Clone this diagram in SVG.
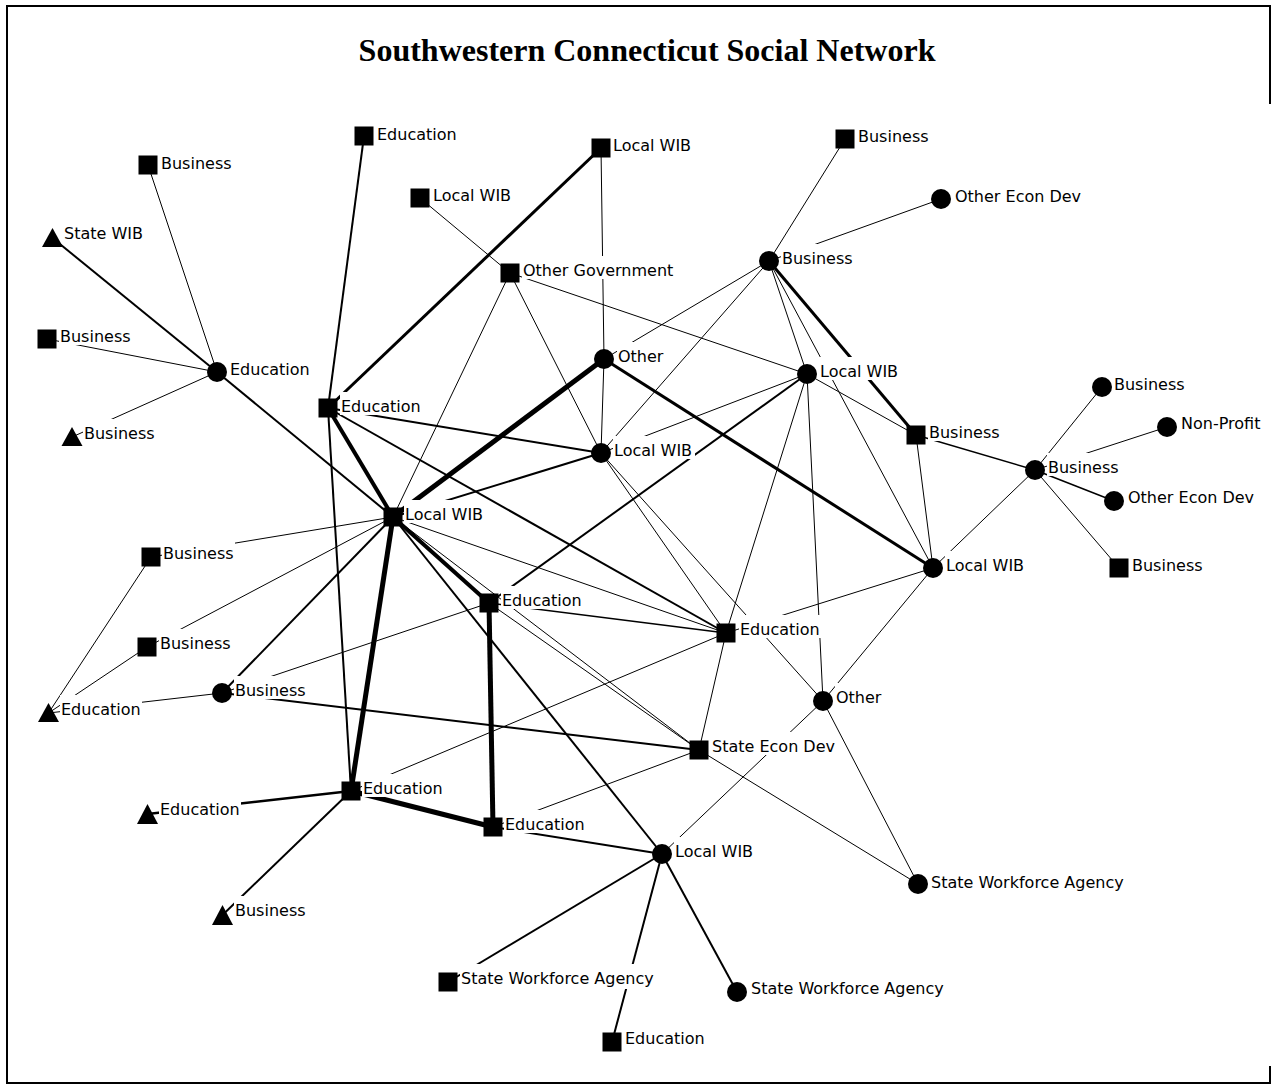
<svg xmlns="http://www.w3.org/2000/svg" width="1272" height="1086" viewBox="0 0 1272 1086">
<style>
.frame{fill:none;stroke:#000;stroke-width:2}
.title{font-family:"Liberation Serif","Times New Roman",serif;font-weight:bold;font-size:32px;fill:#000}
#edges line{stroke:#000;stroke-linecap:butt}
.w1{stroke-width:1}
.w15{stroke-width:1.5}
.w2{stroke-width:2}
.w25{stroke-width:2.5}
.w3{stroke-width:3}
.w4{stroke-width:4}
.w5{stroke-width:5}
.bg{fill:#fff}
.sh{fill:#000}
.lbl{font-family:"DejaVu Sans","Verdana",sans-serif;font-size:16px;fill:#000}
</style>
<rect width="1272" height="1086" fill="#fff"/>
<path class="frame" d="M1270,104 V6 H7 V1083 H1270 V1066"/>
<text class="title" x="647" y="61" text-anchor="middle">Southwestern Connecticut Social Network</text>
<g id="edges">
<!-- thin -->
<line class="w1" x1="148" y1="165" x2="217" y2="372"/>
<line class="w1" x1="47" y1="339" x2="217" y2="372"/>
<line class="w1" x1="72" y1="437" x2="217" y2="372"/>
<line class="w1" x1="601" y1="148" x2="604" y2="359"/>
<line class="w1" x1="420" y1="198" x2="510" y2="273"/>
<line class="w1" x1="510" y1="273" x2="393" y2="517"/>
<line class="w1" x1="510" y1="273" x2="601" y2="453"/>
<line class="w1" x1="510" y1="273" x2="807" y2="374"/>
<line class="w1" x1="769" y1="261" x2="845" y2="139"/>
<line class="w1" x1="769" y1="261" x2="941" y2="199"/>
<line class="w1" x1="769" y1="261" x2="604" y2="359"/>
<line class="w1" x1="769" y1="261" x2="601" y2="453"/>
<line class="w1" x1="769" y1="261" x2="807" y2="374"/>
<line class="w1" x1="769" y1="261" x2="933" y2="568"/>
<line class="w1" x1="807" y1="374" x2="916" y2="435"/>
<line class="w1" x1="807" y1="374" x2="823" y2="701"/>
<line class="w1" x1="807" y1="374" x2="726" y2="633"/>
<line class="w1" x1="807" y1="374" x2="601" y2="453"/>
<line class="w1" x1="604" y1="359" x2="601" y2="453"/>
<line class="w1" x1="601" y1="453" x2="823" y2="701"/>
<line class="w1" x1="601" y1="453" x2="726" y2="633"/>
<line class="w1" x1="393" y1="517" x2="699" y2="750"/>
<line class="w1" x1="489" y1="603" x2="699" y2="750"/>
<line class="w1" x1="393" y1="517" x2="726" y2="633"/>
<line class="w1" x1="393" y1="517" x2="151" y2="557"/>
<line class="w1" x1="393" y1="517" x2="147" y2="647"/>
<line class="w1" x1="489" y1="603" x2="222" y2="693"/>
<line class="w1" x1="222" y1="693" x2="48.5" y2="713"/>
<line class="w1" x1="151" y1="557" x2="48.5" y2="713"/>
<line class="w1" x1="147" y1="647" x2="48.5" y2="713"/>
<line class="w1" x1="726" y1="633" x2="933" y2="568"/>
<line class="w1" x1="726" y1="633" x2="699" y2="750"/>
<line class="w1" x1="726" y1="633" x2="351" y2="791"/>
<line class="w1" x1="823" y1="701" x2="933" y2="568"/>
<line class="w1" x1="823" y1="701" x2="662" y2="854"/>
<line class="w1" x1="823" y1="701" x2="918" y2="884"/>
<line class="w1" x1="699" y1="750" x2="918" y2="884"/>
<line class="w1" x1="916" y1="435" x2="933" y2="568"/>
<line class="w1" x1="1035" y1="470" x2="1102" y2="387"/>
<line class="w1" x1="1035" y1="470" x2="1167" y2="427"/>
<line class="w1" x1="1035" y1="470" x2="1119" y2="568"/>
<line class="w1" x1="1035" y1="470" x2="933" y2="568"/>
<line class="w1" x1="493" y1="827" x2="699" y2="750"/>
<!-- 1.5 -->
<line class="w15" x1="489" y1="603" x2="726" y2="633"/>
<line class="w15" x1="916" y1="435" x2="1035" y2="470"/>
<line class="w15" x1="1035" y1="470" x2="1114" y2="501"/>
<!-- medium -->
<line class="w2" x1="364" y1="136" x2="328" y2="408"/>
<line class="w2" x1="328" y1="408" x2="351" y2="791"/>
<line class="w2" x1="52.5" y1="238" x2="217" y2="372"/>
<line class="w2" x1="217" y1="372" x2="393" y2="517"/>
<line class="w2" x1="328" y1="408" x2="601" y2="453"/>
<line class="w2" x1="393" y1="517" x2="601" y2="453"/>
<line class="w2" x1="328" y1="408" x2="726" y2="633"/>
<line class="w2" x1="807" y1="374" x2="489" y2="603"/>
<line class="w2" x1="393" y1="517" x2="662" y2="854"/>
<line class="w2" x1="393" y1="517" x2="222" y2="693"/>
<line class="w2" x1="222" y1="693" x2="699" y2="750"/>
<line class="w25" x1="351" y1="791" x2="147.5" y2="814"/>
<line class="w2" x1="351" y1="791" x2="222.5" y2="915"/>
<line class="w2" x1="493" y1="827" x2="662" y2="854"/>
<line class="w2" x1="662" y1="854" x2="448" y2="982"/>
<line class="w2" x1="662" y1="854" x2="612" y2="1042"/>
<line class="w2" x1="662" y1="854" x2="737" y2="992"/>
<!-- thick -->
<line class="w3" x1="601" y1="148" x2="328" y2="408"/>
<line class="w3" x1="604" y1="359" x2="933" y2="568"/>
<line class="w3" x1="769" y1="261" x2="916" y2="435"/>
<line class="w4" x1="393" y1="517" x2="489" y2="603"/>
<line class="w4" x1="328" y1="408" x2="393" y2="517"/>
<line class="w5" x1="393" y1="517" x2="604" y2="359"/>
<line class="w5" x1="393" y1="517" x2="351" y2="791"/>
<line class="w5" x1="489" y1="603" x2="493" y2="827"/>
<line class="w5" x1="351" y1="791" x2="493" y2="827"/>
</g>
<g id="n1"><rect class="bg" x="376" y="120" width="82" height="23"/><rect class="sh" x="354.5" y="126.5" width="19" height="19"/><text class="lbl" x="377" y="140">Education</text></g>
<g id="n2"><rect class="bg" x="160" y="149" width="73" height="23"/><rect class="sh" x="138.5" y="155.5" width="19" height="19"/><text class="lbl" x="161" y="169">Business</text></g>
<g id="n3"><rect class="bg" x="63" y="219" width="83" height="23"/><polygon class="sh" points="52.5,228 42,247 63,247"/><text class="lbl" x="64" y="239">State WIB</text></g>
<g id="n4"><rect class="bg" x="59" y="322" width="73" height="23"/><rect class="sh" x="37.5" y="329.5" width="19" height="19"/><text class="lbl" x="60" y="342">Business</text></g>
<g id="n5"><rect class="bg" x="229" y="355" width="82" height="23"/><circle class="sh" cx="217" cy="372" r="10"/><text class="lbl" x="230" y="375">Education</text></g>
<g id="n6"><rect class="bg" x="83" y="419" width="73" height="23"/><polygon class="sh" points="72,427 61.5,446 82.5,446"/><text class="lbl" x="84" y="439">Business</text></g>
<g id="n7"><rect class="bg" x="612" y="131" width="82" height="23"/><rect class="sh" x="591.5" y="138.5" width="19" height="19"/><text class="lbl" x="613" y="151">Local WIB</text></g>
<g id="n8"><rect class="bg" x="432" y="181" width="82" height="23"/><rect class="sh" x="410.5" y="188.5" width="19" height="19"/><text class="lbl" x="433" y="201">Local WIB</text></g>
<g id="n9"><rect class="bg" x="522" y="256" width="154" height="23"/><rect class="sh" x="500.5" y="263.5" width="19" height="19"/><text class="lbl" x="523" y="276">Other Government</text></g>
<g id="n10"><rect class="bg" x="857" y="122" width="73" height="23"/><rect class="sh" x="835.5" y="129.5" width="19" height="19"/><text class="lbl" x="858" y="142">Business</text></g>
<g id="n11"><rect class="bg" x="954" y="182" width="129" height="23"/><circle class="sh" cx="941" cy="199" r="10"/><text class="lbl" x="955" y="202">Other Econ Dev</text></g>
<g id="n12"><rect class="bg" x="781" y="244" width="73" height="23"/><circle class="sh" cx="769" cy="261" r="10"/><text class="lbl" x="782" y="264">Business</text></g>
<g id="n13"><rect class="bg" x="617" y="342" width="48" height="23"/><circle class="sh" cx="604" cy="359" r="10"/><text class="lbl" x="618" y="362">Other</text></g>
<g id="n14"><rect class="bg" x="819" y="357" width="82" height="23"/><circle class="sh" cx="807" cy="374" r="10"/><text class="lbl" x="820" y="377">Local WIB</text></g>
<g id="n15"><rect class="bg" x="613" y="436" width="82" height="23"/><circle class="sh" cx="601" cy="453" r="10"/><text class="lbl" x="614" y="456">Local WIB</text></g>
<g id="n16"><rect class="bg" x="340" y="392" width="82" height="23"/><rect class="sh" x="318.5" y="398.5" width="19" height="19"/><text class="lbl" x="341" y="412">Education</text></g>
<g id="n17"><rect class="bg" x="404" y="500" width="82" height="23"/><rect class="sh" x="383.5" y="507.5" width="19" height="19"/><text class="lbl" x="405" y="520">Local WIB</text></g>
<g id="n18"><rect class="bg" x="928" y="418" width="73" height="23"/><rect class="sh" x="906.5" y="425.5" width="19" height="19"/><text class="lbl" x="929" y="438">Business</text></g>
<g id="n19"><rect class="bg" x="1113" y="370" width="73" height="23"/><circle class="sh" cx="1102" cy="387" r="10"/><text class="lbl" x="1114" y="390">Business</text></g>
<g id="n20"><rect class="bg" x="1180" y="409" width="83" height="23"/><circle class="sh" cx="1167" cy="427" r="10"/><text class="lbl" x="1181" y="429">Non-Profit</text></g>
<g id="n21"><rect class="bg" x="1047" y="453" width="73" height="23"/><circle class="sh" cx="1035" cy="470" r="10"/><text class="lbl" x="1048" y="473">Business</text></g>
<g id="n22"><rect class="bg" x="1127" y="483" width="129" height="23"/><circle class="sh" cx="1114" cy="501" r="10"/><text class="lbl" x="1128" y="503">Other Econ Dev</text></g>
<g id="n23"><rect class="bg" x="1131" y="551" width="73" height="23"/><rect class="sh" x="1109.5" y="558.5" width="19" height="19"/><text class="lbl" x="1132" y="571">Business</text></g>
<g id="n24"><rect class="bg" x="945" y="551" width="82" height="23"/><circle class="sh" cx="933" cy="568" r="10"/><text class="lbl" x="946" y="571">Local WIB</text></g>
<g id="n25"><rect class="bg" x="162" y="539" width="73" height="23"/><rect class="sh" x="141.5" y="547.5" width="19" height="19"/><text class="lbl" x="163" y="559">Business</text></g>
<g id="n26"><rect class="bg" x="501" y="586" width="82" height="23"/><rect class="sh" x="479.5" y="593.5" width="19" height="19"/><text class="lbl" x="502" y="606">Education</text></g>
<g id="n27"><rect class="bg" x="739" y="615" width="82" height="23"/><rect class="sh" x="716.5" y="623.5" width="19" height="19"/><text class="lbl" x="740" y="635">Education</text></g>
<g id="n28"><rect class="bg" x="159" y="629" width="73" height="23"/><rect class="sh" x="137.5" y="637.5" width="19" height="19"/><text class="lbl" x="160" y="649">Business</text></g>
<g id="n29"><rect class="bg" x="234" y="676" width="73" height="23"/><circle class="sh" cx="222" cy="693" r="10"/><text class="lbl" x="235" y="696">Business</text></g>
<g id="n30"><rect class="bg" x="60" y="695" width="82" height="23"/><polygon class="sh" points="48.5,703 38,722 59,722"/><text class="lbl" x="61" y="715">Education</text></g>
<g id="n31"><rect class="bg" x="835" y="683" width="48" height="23"/><circle class="sh" cx="823" cy="701" r="10"/><text class="lbl" x="836" y="703">Other</text></g>
<g id="n32"><rect class="bg" x="711" y="732" width="126" height="23"/><rect class="sh" x="689.5" y="740.5" width="19" height="19"/><text class="lbl" x="712" y="752">State Econ Dev</text></g>
<g id="n33"><rect class="bg" x="362" y="774" width="82" height="23"/><rect class="sh" x="341.5" y="781.5" width="19" height="19"/><text class="lbl" x="363" y="794">Education</text></g>
<g id="n34"><rect class="bg" x="159" y="795" width="82" height="23"/><polygon class="sh" points="147.5,804 137,824 158,824"/><text class="lbl" x="160" y="815">Education</text></g>
<g id="n35"><rect class="bg" x="504" y="810" width="82" height="23"/><rect class="sh" x="483.5" y="817.5" width="19" height="19"/><text class="lbl" x="505" y="830">Education</text></g>
<g id="n36"><rect class="bg" x="674" y="837" width="82" height="23"/><circle class="sh" cx="662" cy="854" r="10"/><text class="lbl" x="675" y="857">Local WIB</text></g>
<g id="n37"><rect class="bg" x="234" y="896" width="73" height="23"/><polygon class="sh" points="222.5,905 212,925 233,925"/><text class="lbl" x="235" y="916">Business</text></g>
<g id="n38"><rect class="bg" x="930" y="868" width="198" height="24"/><circle class="sh" cx="918" cy="884" r="10"/><text class="lbl" x="931" y="888">State Workforce Agency</text></g>
<g id="n39"><rect class="bg" x="460" y="964" width="198" height="25"/><rect class="sh" x="438.5" y="972.5" width="19" height="19"/><text class="lbl" x="461" y="984">State Workforce Agency</text></g>
<g id="n40"><rect class="bg" x="750" y="974" width="198" height="24"/><circle class="sh" cx="737" cy="992" r="10"/><text class="lbl" x="751" y="994">State Workforce Agency</text></g>
<g id="n41"><rect class="bg" x="624" y="1024" width="82" height="23"/><rect class="sh" x="602.5" y="1032.5" width="19" height="19"/><text class="lbl" x="625" y="1044">Education</text></g>
</svg>
